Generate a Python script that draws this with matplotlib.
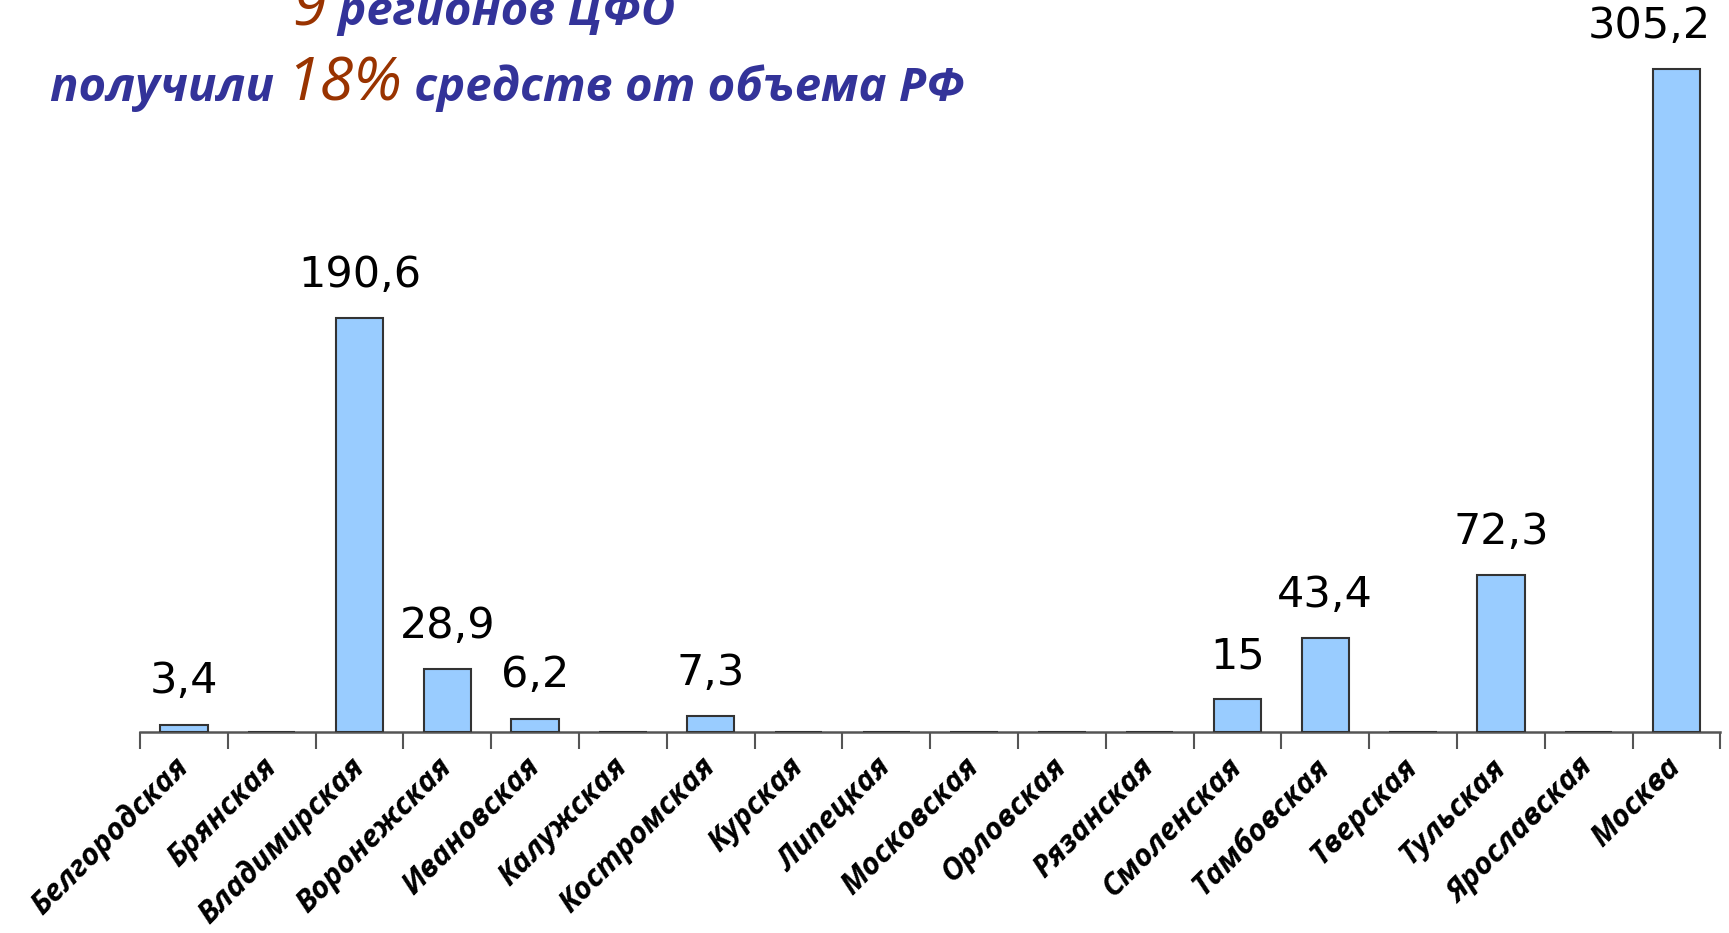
import matplotlib
matplotlib.use('Agg')
import numpy as np
from matplotlib import pyplot as plt

# Data
regions = ['Белгородская', 'Брянская', 'Владимирская', 'Воронежская', 'Ивановская',
           'Калужская', 'Костромская', 'Курская', 'Липецкая', 'Московская',
           'Орловская', 'Рязанская', 'Смоленская', 'Тамбовская', 'Тверская',
           'Тульская', 'Ярославская', 'Москва']
values = [3.4, 0, 190.6, 28.9, 6.2, 0, 7.3, 0, 0, 0, 0, 0, 15, 43.4, 0, 72.3, 0, 305.2]
value_labels = ['3,4', '', '190,6', '28,9', '6,2', '', '7,3', '', '', '', '', '',
                '15', '43,4', '', '72,3', '', '305,2']

blue = '#333399'
brown = '#993300'

fig = plt.figure(figsize=(17.29, 9.33), dpi=100)
ax = fig.add_axes([0.081, 0.2154, 0.914, 0.7846])

x = np.arange(len(regions))
ax.bar(x, values, width=0.54, color='#99CCFF', edgecolor='#333333', linewidth=1.5, zorder=3)

# value labels above bars; the last one is kept inside the figure
for xi, v, lab in zip(x, values, value_labels):
    if not lab:
        continue
    if xi == len(regions) - 1:
        ax.annotate(lab, (xi + 0.27, v), xytext=(8, 16), textcoords='offset points',
                    ha='right', va='bottom', fontsize=31, color='black')
    else:
        ax.annotate(lab, (xi, v), xytext=(0, 16), textcoords='offset points',
                    ha='center', va='bottom', fontsize=31, color='black')

ax.set_xlim(-0.5, len(regions) - 0.5)
ax.set_ylim(0, 337)
ax.set_yticks([])
for s in ['top', 'right', 'left']:
    ax.spines[s].set_visible(False)
ax.spines['bottom'].set_color('#555555')
ax.spines['bottom'].set_linewidth(1.8)

# ticks at category boundaries, labels at centres
ax.set_xticks(np.arange(len(regions) + 1) - 0.5, minor=True)
ax.tick_params(axis='x', which='minor', length=12, width=1.5, color='#555555')
ax.set_xticks(x)
ax.tick_params(axis='x', which='major', length=0, pad=22)
ax.set_xticklabels(regions, rotation=45, ha='right', va='center', rotation_mode='anchor',
                   fontsize=22, fontweight='bold', fontstyle='italic',
                   family=['Open Sans', 'DejaVu Sans'])

# Title pieces in two colours
tfont = ['Open Sans', 'DejaVu Sans']


def draw_line(pieces, x0, y0):
    fig.canvas.draw()
    r = fig.canvas.get_renderer()
    xx = x0
    for txt, col, size, weight in pieces:
        t = fig.text(xx, y0, txt, color=col, fontsize=size, fontweight=weight,
                     fontstyle='italic', family=tfont, va='baseline', ha='left')
        bb = t.get_window_extent(renderer=r)
        xx += bb.width / fig.bbox.width


draw_line([('9', brown, 44, 'normal'), (' регионов ЦФО', blue, 34, 'bold')], 0.169, 0.973)
draw_line([('получили ', blue, 34, 'bold'), ('18%', brown, 44, 'normal'),
           (' средств от объема РФ', blue, 34, 'bold')], 0.029, 0.892)

fig.savefig('out.png', dpi=100)
